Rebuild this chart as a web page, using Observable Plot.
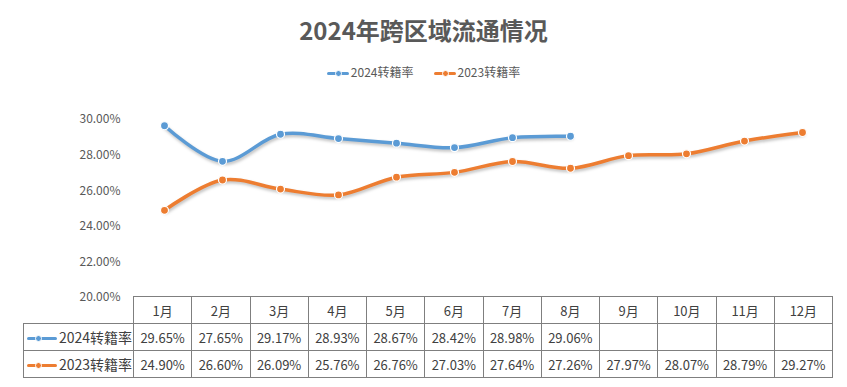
<!DOCTYPE html>
<html><head><meta charset="utf-8">
<script src="https://cdn.jsdelivr.net/npm/d3@7"></script>
<script src="https://cdn.jsdelivr.net/npm/@observablehq/plot@0.6"></script>
<style>
body{margin:0;width:847px;height:387px;background:#fff;position:relative;overflow:hidden;font-family:"Noto Sans CJK SC","Noto Sans",sans-serif;}
#title{position:absolute;left:0;width:847px;top:12px;text-align:center;font-size:24px;font-weight:bold;color:#595959;}
#legend{position:absolute;left:0;width:847px;top:63px;text-align:center;font-size:12px;color:#595959;}
#legend span.item{display:inline-block;margin:0 10px;}
.key{display:inline-block;position:relative;width:22px;height:10px;vertical-align:middle;margin-right:2px;}
.key:before{content:"";position:absolute;left:0;right:0;top:3px;height:3px;border-radius:2px;background:var(--c);}
.key:after{content:"";position:absolute;left:8px;top:1px;width:5px;height:5px;border-radius:50%;background:var(--c);border:1px solid #fff;}
#chart{position:absolute;left:0;top:100px;}
#tbl{position:absolute;left:23px;top:296px;border-collapse:collapse;table-layout:fixed;font-size:13px;color:#404040;}
#tbl td{border:1.5px solid #7f7f7f;text-align:center;padding:0;height:26px;white-space:nowrap;overflow:hidden;}
#tbl td.blank{border:none;border-bottom:1.5px solid #7f7f7f;}
#tbl td.lab{text-align:left;padding-left:3px;font-size:14px;}
</style></head>
<body>
<div id="title">2024年跨区域流通情况</div>
<div id="legend"></div>
<div id="chart"></div>
<table id="tbl"></table>
<script>
const months = ["1月","2月","3月","4月","5月","6月","7月","8月","9月","10月","11月","12月"];
const seriesNames = ["2024转籍率","2023转籍率"];
const seriesColors = ["#5B9BD5","#ED7D31"];
const values2024 = [29.65,27.65,29.17,28.93,28.67,28.42,28.98,29.06];
const values2023 = [24.90,26.60,26.09,25.76,26.76,27.03,27.64,27.26,27.97,28.07,28.79,29.27];
const yTicks = [20,22,24,26,28,30];

const fmt = d => d.toFixed(2) + "%";
const rows = [];
[values2024, values2023].forEach((vals, si) => vals.forEach((v, i) => rows.push({month: months[i], series: seriesNames[si], value: v})));

// legend
const leg = document.getElementById("legend");
seriesNames.forEach((s, i) => {
  const it = document.createElement("span");
  it.className = "item";
  it.innerHTML = `<span class="key" style="--c:${seriesColors[i]}"></span>${s}`;
  leg.appendChild(it);
});

const chart = Plot.plot({
  width: 847, height: 212,
  marginLeft: 133, marginRight: 15, marginTop: 19, marginBottom: 15,
  style: {fontFamily: '"Noto Sans CJK SC","Noto Sans",sans-serif', background: "transparent", overflow: "visible"},
  x: {type: "point", domain: months, padding: 0.5, axis: null},
  y: {domain: [20, 30], axis: null},
  color: {domain: seriesNames, range: seriesColors},
  marks: [
    Plot.axisY({ticks: yTicks, tickFormat: fmt, tickSize: 0, tickPadding: 13, fontSize: 12, fill: "#595959", label: null}),
    Plot.line(rows, {x: "month", y: "value", z: "series", stroke: "series", strokeWidth: 3.5, curve: "catmull-rom", imageFilter: "drop-shadow(1px 2px 1.5px rgba(0,0,0,0.25))"}),
    Plot.dot(rows, {x: "month", y: "value", fill: "series", stroke: "#fff", strokeWidth: 1.2, r: 4})
  ]
});
document.getElementById("chart").appendChild(chart);

// data table
const tbl = document.getElementById("tbl");
const cg = document.createElement("colgroup");
cg.innerHTML = `<col style="width:110px">` + months.map(() => `<col style="width:58.25px">`).join("");
tbl.appendChild(cg);
const hr = document.createElement("tr");
hr.innerHTML = `<td class="blank"></td>` + months.map(m => `<td>${m}</td>`).join("");
tbl.appendChild(hr);
[values2024, values2023].forEach((vals, si) => {
  const tr = document.createElement("tr");
  tr.innerHTML = `<td class="lab"><span class="key" style="--c:${seriesColors[si]};width:30px"></span>${seriesNames[si]}</td>` +
    months.map((m, i) => `<td>${vals[i] != null ? fmt(vals[i]) : ""}</td>`).join("");
  tbl.appendChild(tr);
});
</script>
</body></html>
